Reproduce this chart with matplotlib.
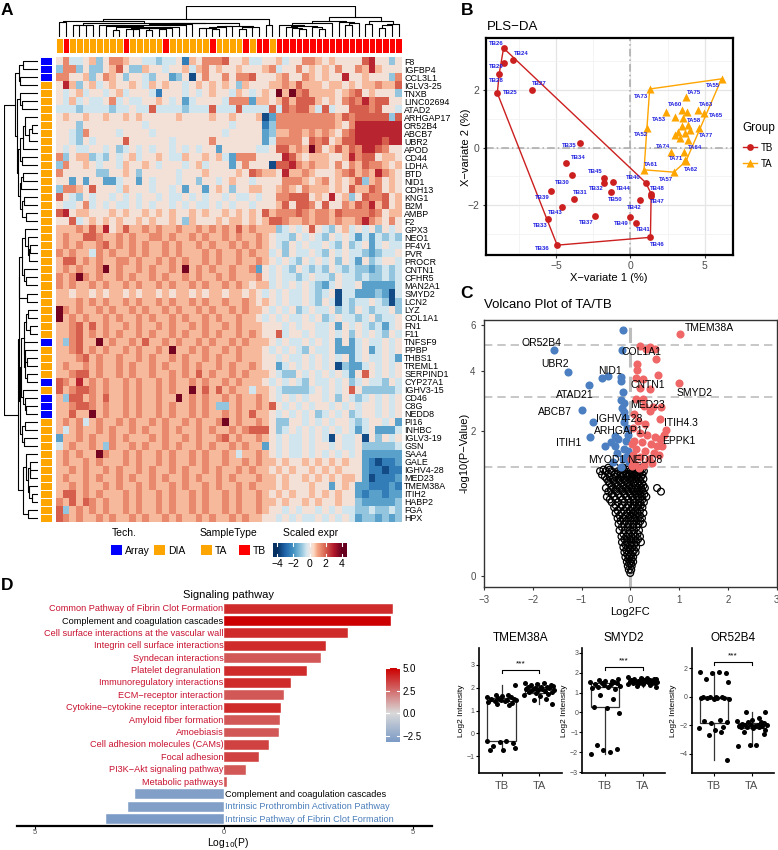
import numpy as np
import matplotlib
matplotlib.use('Agg')
import matplotlib.pyplot as plt
from matplotlib.colors import LinearSegmentedColormap, TwoSlopeNorm
from matplotlib.patches import Rectangle

plt.rcParams['font.family'] = ['Liberation Sans', 'DejaVu Sans']

# ---------------- panel A data ----------------
genes = ['F8', 'IGFBP4', 'CCL3L1', 'IGLV3-25', 'TNXB', 'LINC02694', 'ATAD2', 'ARHGAP17',
         'OR52B4', 'ABCB7', 'UBR2', 'APOD', 'CD44', 'LDHA', 'BTD', 'NID1', 'CDH13', 'KNG1',
         'B2M', 'AMBP', 'F2', 'GPX3', 'NEO1', 'PF4V1', 'PVR', 'PROCR', 'CNTN1', 'CFHR5',
         'MAN2A1', 'SMYD2', 'LCN2', 'LYZ', 'COL1A1', 'FN1', 'F11', 'TNFSF9', 'PPBP', 'THBS1',
         'TREML1', 'SERPIND1', 'CYP27A1', 'IGHV3-15', 'CD46', 'C8G', 'NEDD8', 'PI16', 'INHBC',
         'IGLV3-19', 'GSN', 'SAA4', 'GALE', 'IGHV4-28', 'MED23', 'TMEM38A', 'ITIH2', 'HABP2',
         'FGA', 'HPX']
# A = Array, D = DIA (one letter per gene row)
tech = 'AAA' + 'DDDDDDDDDDDDDDDDDDDDDDDDDDDDDDDD' + 'A' + 'DDDD' + 'A' + 'D' + 'AAA' + 'DDDDDDDDDDDDD'
# A = TA, B = TB (one letter per sample column)
sample_type = 'AB' + 'AAAAAAAA' + 'B' + 'AAAAA' + 'B' + 'AAAAAA' + 'B' + 'AAAA' + 'B' + 'A' + 'BB' + 'A' + 'BBBBBBBBBBBBBBBBBBB'

# scaled expression, one code per cell (see level below)
level = {'0': -3.5, '1': -2.5, '2': -1.7, '3': -1.0, '4': -0.4, '5': 0.2,
         '6': 0.8, '7': 1.4, '8': 2.0, '9': 2.8, 'X': 3.8}
heat_rows = [
    "5744 5635 7765 5443 4451 6577 7855 6445 5645 5776 5655 5589 5535",
    "3773 5335 6853 3655 4556 4675 6556 5556 7455 7565 6575 5769 6555",
    "7755 6357 6535 5435 5235 0575 5757 7855 5675 5765 6559 5565 5537",
    "5963 5645 6556 5465 6554 5656 5653 6555 6676 8666 5665 6566 7668",
    "5456 4554 5645 5541 5554 5456 5546 5456 5X6X 7866 6656 7856 5553",
    "5464 5445 7454 4556 5452 4555 5477 7266 5686 8886 5657 8797 8855",
    "4443 4444 3445 4484 4443 4448 4448 4444 8487 8864 8455 8887 8554",
    "5655 6556 5565 6555 5565 5556 5565 5560 2777 7777 7768 7888 8838",
    "5553 5555 5555 5455 5555 5555 5545 5551 3777 7777 7765 7999 9999",
    "5543 7555 5455 5545 5555 5555 5455 5552 3667 7676 7657 8999 9999",
    "5543 5455 5585 5555 5455 5557 5555 5552 4777 7587 8568 8999 9899",
    "5454 4554 5345 4545 5454 5455 2555 5544 5886 76X7 5686 8799 8755",
    "7356 6343 5456 4556 5446 5565 6427 7755 5598 6566 6556 9788 5665",
    "3755 6545 5465 5654 5554 5645 5525 7555 0889 7676 6575 7687 7656",
    "7555 5533 5565 3555 5545 5565 5556 5876 6596 6765 5567 8676 9765",
    "5525 2552 2455 2545 5545 5355 4565 5455 5577 7656 7565 6836 7565",
    "3776 5855 5465 5545 5452 5525 6535 5665 5676 5766 6565 8668 7565",
    "8543 5455 4545 4554 5445 4545 5454 4545 5778 8856 5956 3587 7856",
    "5445 7454 5445 4545 5454 5445 4545 5455 5685 8875 8557 6879 6856",
    "8956 6555 6565 5656 5655 6565 5656 5658 6777 8767 7687 7778 7566",
    "5584 5656 5655 6565 5653 6555 6566 5656 8876 6767 7676 6797 6575",
    "6667 6869 5686 6767 6676 6767 6768 6766 6345 4585 4356 4545 3545",
    "6766 8876 6767 6677 6766 7676 6767 6676 5443 5454 3545 4242 4343",
    "6767 6678 6767 6766 7676 6767 6676 7676 5435 4544 5435 3452 4544",
    "7676 6476 7667 6766 7676 6676 7667 6766 4535 4454 3545 4432 3445",
    "6886 7676 6776 7667 6767 6676 7667 6676 5454 3545 4535 4253 4554",
    "6767 667X 6766 7676 676X 6767 6676 6725 4543 5434 3543 4332 3434",
    "767X 7676 6767 6676 7667 6766 7676 6675 4544 3454 4354 4343 3434",
    "7676 6767 6676 7667 6766 7676 6767 6566 4545 4543 2454 4522 2224",
    "6656 6565 6656 5665 6566 5656 6566 5654 5454 4543 4504 4222 3204",
    "6667 6767 6676 7667 6766 7676 6766 7656 5454 4543 5404 3445 4303",
    "X767 6676 7667 6766 7676 6767 6676 7665 4545 3454 4534 3543 4453",
    "X676 7667 6766 7676 6767 6676 7667 6654 5454 4545 3454 4345 3445",
    "6678 6867 6676 7667 6766 7676 6767 6665 5545 4554 4525 4543 4245",
    "6678 6767 6766 7676 6767 6676 7667 6765 5845 5454 4545 3545 4354",
    "6378 66X6 7667 6866 7676 6767 6676 7666 5454 4545 4525 2454 4545",
    "6678 6767 6676 7667 6X66 7676 6767 6665 4545 4354 4522 2452 4545",
    "6667 8676 6766 7676 6767 6676 7667 6665 5454 4545 4545 2454 4542",
    "6766 7676 6767 6676 7667 6766 7676 6765 5245 4545 4503 2245 4545",
    "6678 8676 6767 6676 6767 6867 6676 7666 5433 5454 5454 2585 4545",
    "8769 6767 6676 7667 6766 7676 6767 6665 4545 4354 4545 3454 4354",
    "8678 8767 6676 7667 6766 X686 8676 6466 5433 3345 4545 8533 3334",
    "6388 6768 6676 7667 66X6 7676 6767 6676 5454 5455 4535 4345 4545",
    "6678 8767 6676 7667 6766 7676 3367 6676 8545 4545 5454 5455 4545",
    "6686 6X67 6676 7667 6766 7676 6767 6866 5454 5453 4545 3455 4545",
    "6767 4676 6767 6676 7667 6766 7X67 6676 5335 5454 5455 4345 5452",
    "6467 6676 7667 6766 7676 6767 6676 7888 5345 4545 4545 4245 2224",
    "2667 6766 7676 6676 7667 6766 7867 6676 5454 4545 4054 4505 3545",
    "4676 6763 7667 6766 7676 6767 6676 7662 5454 4545 5454 4533 3334",
    "6767 66X7 6676 7667 6766 7676 6764 6676 5454 4545 4545 4522 2222",
    "6766 7676 6676 7667 6766 7676 6766 7676 6565 5656 5656 5521 0112",
    "6676 7667 6766 7676 6767 6676 7667 6766 5656 5565 6565 5521 1011",
    "6766 7676 6767 6676 7667 6766 7676 6676 6565 5656 5656 6520 1112",
    "6676 7667 6766 7676 6767 6676 7667 6766 6565 5565 5256 5221 1121",
    "6886 7676 6676 7667 6766 7676 6767 6676 5656 5565 6565 5212 2122",
    "7686 8767 6676 7667 6766 7676 6767 6676 6565 5656 5565 5322 2223",
    "8367 6767 6676 7667 6766 7676 6767 6676 5545 4554 5454 4334 3343",
    "8767 6676 7667 6766 7676 6767 6676 7665 5454 5445 4545 4233 2323",
]

# ---------------- panel B data (PLS-DA scores) ----------------
tb_names = ['TB26', 'TB24', 'TB29', 'TB28', 'TB25', 'TB27', 'TB35', 'TB34', 'TB30', 'TB45',
            'TB32', 'TB44', 'TB31', 'TB50', 'TB39', 'TB43', 'TB33', 'TB37', 'TB49', 'TB41',
            'TB42', 'TB40', 'TB48', 'TB47', 'TB46', 'TB36']
tb_x = [-8.52, -7.91, -8.47, -8.81, -8.94, -6.61, -3.35, -4.31, -3.93, -1.80, -1.80, -1.17, -3.80,
        -1.28, -5.30, -4.56, -5.53, -2.38, -0.04, 0.40, 0.63, 1.03, 1.40, 1.38, 1.35, -4.92]
tb_y = [3.43, 3.03, 2.92, 2.55, 1.88, 1.99, 0.17, -0.54, -0.95, -1.04, -1.21, -1.18, -1.78,
        -1.52, -1.49, -2.04, -2.48, -2.36, -2.39, -2.59, -1.81, -1.21, -1.60, -1.66, -3.10, -3.37]
ta_names = ['TA55', 'TA73', 'TA75', 'TA60', 'TA63', 'TA65', 'TA53', 'TA58', 'TA52', 'TA77',
            'TA74', 'TA64', 'TA71', 'TA62', 'TA61', 'TA57', 'TA54', 'TA56', 'TA59', 'TA66',
            'TA67', 'TA68', 'TA69', 'TA70', 'TA72', 'TA76']
ta_x = [6.13, 1.30, 3.73, 3.44, 4.56, 4.94, 2.43, 3.55, 1.12, 4.63, 2.70, 3.60, 3.66, 3.73, 0.92,
        2.92, 2.99, 3.78, 3.44, 3.89, 3.21, 3.66, 2.99, 3.33, 4.00, 3.89]
ta_y = [2.37, 2.02, 1.73, 1.30, 1.30, 1.19, 1.21, 1.01, 0.69, 0.67, -0.14, -0.14, -0.43, -0.48,
        -0.77, -0.85, 1.07, 1.24, 0.73, 0.78, 0.55, 0.50, 0.44, 0.32, 0.61, 0.27]

# ---------------- panel C data (volcano) ----------------
down_x = [-0.15, -1.56, -0.17, -1.28, -0.57, -0.46, -0.20, -0.20, -0.85, -0.15, -0.20, -0.13,
          -0.17, -0.12, -0.98, -0.76, -0.12, -0.07, -0.82, -0.32, -0.25, -0.08, -0.52, -0.32,
          -0.12, -0.20, -0.05, -0.10, -0.40, -0.05, -0.08, -0.15, -0.28, -0.02, -0.35]
down_y = [5.75, 4.85, 4.87, 3.96, 3.72, 3.81, 3.77, 3.62, 3.49, 3.23, 2.95, 2.85, 2.70, 2.55,
          2.62, 2.27, 2.25, 2.10, 1.83, 1.87, 1.80, 1.75, 1.60, 1.60, 1.55, 1.14, 1.90, 2.40,
          1.70, 1.50, 1.35, 1.30, 1.45, 1.25, 1.25]
up_x = [1.03, 0.19, 0.41, 0.50, 0.33, 0.53, 0.14, 0.14, 0.57, 0.12, 0.26, 0.99, 0.41, 0.20,
        0.12, 0.26, 0.29, 0.46, 0.63, 0.40, 0.62, 0.74, 0.08, 0.15, 0.30, 0.05, 0.20, 0.35,
        0.50, 0.60, 0.08, 0.25, 0.42, 0.55, 0.12, 0.30, 0.48, 0.05, 0.20, 0.38, 0.58, 0.10,
        0.28, 0.45, 0.03, 0.18, 0.65, 0.70, 0.04, 0.02]
up_y = [5.57, 5.04, 5.01, 4.92, 4.89, 4.47, 4.27, 4.04, 3.84, 3.75, 3.70, 3.56, 3.34, 3.35,
        3.00, 2.98, 2.75, 2.72, 2.72, 2.58, 2.36, 2.02, 2.50, 2.30, 2.20, 2.10, 1.95, 1.90,
        1.85, 1.80, 1.75, 1.70, 1.65, 1.60, 1.55, 1.50, 1.45, 1.40, 1.35, 1.30, 1.40, 1.20,
        1.18, 1.22, 1.15, 1.12, 1.60, 1.90, 1.65, 1.30]
# non-significant proteins, grouped by -log10(P)
ns_rows = [
    (1.12, [-0.45, -0.30, -0.15, -0.05, 0.05, 0.15, 0.22]),
    (1.08, [-0.55, -0.42, -0.20, -0.08, 0.02, 0.12, 0.24]),
    (1.05, [-0.62, -0.50, -0.38, -0.25, -0.12, 0.00, 0.10, 0.20, 0.28]),
    (1.00, [-0.45, -0.26, -0.14, -0.02, 0.08, 0.18]),
    (0.98, [-0.58, -0.32, -0.20, -0.08, 0.04, 0.14, 0.25]),
    (0.94, [-0.52, -0.42, -0.30, -0.18, -0.07, 0.03, 0.13, 0.22]),
    (0.90, [-0.48, -0.36, -0.24, -0.13, -0.02, 0.08, 0.18, 0.27]),
    (0.86, [-0.45, -0.34, -0.22, -0.10, 0.00, 0.10, 0.20]),
    (0.82, [-0.42, -0.30, -0.18, -0.06, 0.06, 0.16, 0.24]),
    (0.78, [-0.38, -0.26, -0.14, -0.02, 0.10, 0.20, 0.27]),
    (0.74, [-0.50, -0.35, -0.22, -0.10, 0.02, 0.12, 0.22, 0.30, 0.55]),
    (0.71, [-0.40, -0.30, -0.18, -0.06, 0.05, 0.15, 0.24]),
    (0.68, [-0.45, -0.28, -0.15, -0.03, 0.08, 0.18, 0.26, 0.63]),
    (0.64, [-0.38, -0.24, -0.12, 0.00, 0.10, 0.20, 0.29]),
    (0.60, [-0.48, -0.33, -0.20, -0.08, 0.04, 0.14, 0.24, 0.33]),
    (0.56, [-0.42, -0.30, -0.16, -0.04, 0.07, 0.17, 0.25]),
    (0.52, [-0.38, -0.25, -0.12, 0.00, 0.10, 0.20, 0.28]),
    (0.48, [-0.30, -0.16, -0.04, 0.07, 0.17, 0.22]),
    (0.45, [-0.33, -0.20, -0.08, 0.04, 0.14, 0.25]),
    (0.41, [-0.26, -0.13, -0.01, 0.10, 0.20]),
    (0.38, [-0.30, -0.18, -0.06, 0.05, 0.15, 0.27]),
    (0.35, [-0.22, -0.10, 0.00, 0.11, 0.20]),
    (0.32, [-0.26, -0.15, -0.04, 0.06, 0.16, 0.24]),
    (0.29, [-0.20, -0.09, 0.01, 0.12, 0.21]),
    (0.26, [-0.24, -0.13, -0.03, 0.07, 0.17, 0.26]),
    (0.23, [-0.17, -0.06, 0.04, 0.13]),
    (0.20, [-0.22, -0.11, -0.01, 0.08, 0.18]),
    (0.17, [-0.14, -0.04, 0.06, 0.15]),
    (0.15, [-0.18, -0.08, 0.02, 0.11, 0.20]),
    (0.13, [-0.12, -0.02, 0.07, 0.16]),
    (0.11, [-0.17, -0.07, 0.03, 0.12, 0.22]),
    (0.095, [-0.10, 0.00, 0.08]),
    (0.08, [-0.14, -0.05, 0.04, 0.12]),
    (0.065, [-0.08, 0.00, 0.08]),
    (0.055, [-0.12, -0.03, 0.05, 0.11]),
    (0.045, [-0.06, 0.02]),
    (0.035, [-0.10, -0.02, 0.06]),
    (0.028, [-0.04, 0.03]),
    (0.02, [-0.07, 0.00, 0.06]),
    (0.015, [-0.02, 0.02]),
    (0.01, [-0.05, 0.03]),
    (0.004, [-0.03, 0.02]),
    (0.001, [0.00]),
]
volcano_labels = ['TMEM38A', 'OR52B4', 'COL1A1', 'UBR2', 'NID1', 'CNTN1', 'SMYD2', 'ATAD21',
                  'MED23', 'ABCB7', 'IGHV4-28', 'ITIH4.3', 'ARHGAP17', 'EPPK1', 'ITIH1',
                  'MYOD1', 'NEDD8']
label_x = [1.62, -1.83, 0.24, -1.55, -0.42, 0.36, 1.32, -1.13, 0.36, -1.55, -0.22, 1.04,
           -0.18, 0.99, -1.26, -0.49, 0.29]
label_y = [5.84, 5.19, 4.78, 4.27, 4.00, 3.47, 3.20, 3.13, 2.80, 2.55, 2.35, 2.23, 2.01,
           1.74, 1.68, 1.29, 1.29]
p_cut = [5.1, 3.05, 1.13]

# ---------------- panel D data ----------------
pathways = ['Common Pathway of Fibrin Clot Formation', 'Complement and coagulation cascades',
            'Cell surface interactions at the vascular wall', 'Integrin cell surface interactions',
            'Syndecan interactions', 'Platelet degranulation ', 'Immunoregulatory interactions',
            'ECM\u2212receptor interaction', 'Cytokine\u2212cytokine receptor interaction',
            'Amyloid fiber formation', 'Amoebiasis', 'Cell adhesion molecules (CAMs)',
            'Focal adhesion', 'PI3K\u2212Akt signaling pathway', 'Metabolic pathways',
            'Complement and coagulation cascades', 'Intrinsic Prothrombin Activation Pathway',
            'Intrinsic Pathway of Fibrin Clot Formation']
log_p = [4.46, 4.41, 3.29, 2.70, 2.56, 2.19, 1.77, 1.59, 1.51, 1.48, 1.44, 1.20, 0.93, 0.58,
         0.07, -2.37, -2.55, -3.12]
count = [4.0, 5.0, 4.0, 4.0, 3.0, 4.0, 4.0, 3.0, 4.0, 3.0, 3.0, 3.5, 3.5, 3.0, 3.0,
         -3.0, -3.0, -3.2]

# ---------------- boxplot data ----------------
box_genes = ['TMEM38A', 'SMYD2', 'OR52B4']
tb_vals = [
    [-0.32, -0.35, -0.38, -0.42, -0.55, -0.65, -0.72, -0.75, 1.25, 1.30, 1.32, 1.38, 1.40,
     1.42, 1.45, 1.47, 1.48, 1.50, 1.52, 1.55, 1.58, 1.60, 1.65, 1.68, 1.70, 2.10],
    [-2.10, -2.00, -1.90, -1.85, -1.65, -0.05, 0.25, 0.30, 0.70, 0.90, 1.20, 1.25, 1.30, 1.30,
     1.35, 1.40, 1.45, 1.45, 1.50, 1.50, 1.52, 1.55, 1.58, 1.60, 1.65, 1.70],
    [1.75, 1.70, 1.65, 1.62, 1.20, 1.00, 0.00, -0.02, -0.05, -0.05, -0.08, -0.10, -0.10, -0.12,
     -0.15, -0.20, -1.60, -1.70, -1.80, -1.85, -2.10, -2.20, -2.30, -2.50, -2.70, -4.40],
]
ta_vals = [
    [1.30, 1.45, 1.50, 1.62, 1.70, 1.72, 1.75, 1.80, 1.82, 1.85, 1.88, 1.90, 1.92, 1.93, 1.95,
     1.97, 2.00, 2.02, 2.05, 2.05, 2.08, 2.10, 2.12, 2.15, 2.20, 2.22],
    [1.28, 1.35, 1.40, 1.42, 1.45, 1.47, 1.48, 1.50, 1.50, 1.52, 1.53, 1.55, 1.55, 1.56, 1.58,
     1.60, 1.60, 1.62, 1.63, 1.65, 1.66, 1.68, 1.70, 1.72, 1.75, 1.78],
    [-1.10, -1.10, -1.50, -1.60, -1.70, -1.75, -1.80, -1.85, -1.90, -1.95, -1.98, -2.00, -2.00,
     -2.02, -2.05, -2.05, -2.10, -2.10, -2.15, -2.20, -2.30, -2.50, -2.60, -3.35, -3.40, -3.45],
]
jitter = [-0.38, 0.12, -0.05, 0.31, -0.22, 0.36, 0.04, -0.30, 0.20, -0.12, 0.27, -0.35, 0.08,
          -0.18, 0.39, -0.02, 0.15, -0.27, 0.33, -0.09, 0.24, -0.40, 0.01, 0.18, -0.15, 0.35]

# =====================================================================
W, H = 778, 850
fig = plt.figure(figsize=(W / 100, H / 100), dpi=100)


def ax_px(x0, y0, x1, y1):
    return fig.add_axes([x0 / W, 1 - y1 / H, (x1 - x0) / W, (y1 - y0) / H])


# overlay in pixel coordinates for letters, titles and legends
ov = ax_px(0, 0, W, H)
ov.set_xlim(0, W)
ov.set_ylim(H, 0)
ov.axis('off')

for letter, (lx, ly) in zip('ABCD', [(7, 10), (467, 10), (467, 294), (7, 586)]):
    ov.text(lx, ly, letter, fontsize=12.5, fontweight='bold', ha='center', va='center')

# ---------------- A: heatmap ----------------
expr = np.array([[level[c] for c in r.replace(' ', '')] for r in heat_rows])
n_row, n_col = expr.shape

heat_cmap = LinearSegmentedColormap.from_list('scaled', [
    (0.0, '#053061'), (0.125, '#2166AC'), (0.25, '#4393C3'), (0.375, '#92C5DE'),
    (0.45, '#D1E5F0'), (0.5, '#ECE7E5'), (0.56, '#FDDBC7'), (0.625, '#F4A582'),
    (0.75, '#D6604D'), (0.875, '#B2182B'), (1.0, '#67001F')])


def adjacent_tree(m):
    # complete-linkage clustering that only joins neighbours, so the leaf order is kept
    d = np.sqrt(((m[:, None, :] - m[None, :, :]) ** 2).sum(-1))
    groups = [[i] for i in range(len(m))]
    pos = [i + 0.5 for i in range(len(m))]
    hts = [0.0] * len(m)
    links = []
    while len(groups) > 1:
        dk = [d[np.ix_(groups[k], groups[k + 1])].max() for k in range(len(groups) - 1)]
        k = int(np.argmin(dk))
        h = max(dk[k], hts[k], hts[k + 1])
        links.append((pos[k], hts[k], pos[k + 1], hts[k + 1], h))
        groups[k] = groups[k] + groups.pop(k + 1)
        pos[k] = (pos[k] + pos.pop(k + 1)) / 2
        hts.pop(k + 1)
        hts[k] = h
    return links, h


axh = ax_px(56, 57, 402, 522)
axh.imshow(expr, cmap=heat_cmap, vmin=-4, vmax=4, aspect='auto', interpolation='nearest',
           extent=(0, n_col, n_row, 0))
axh.set_xticks([])
axh.yaxis.tick_right()
axh.set_yticks(np.arange(n_row) + 0.5)
axh.set_yticklabels(genes, fontsize=6.4)
axh.tick_params(axis='y', length=0, pad=1.5)
for s in axh.spines.values():
    s.set_visible(False)

# column annotation
type_col = {'A': '#FFA500', 'B': '#FF0000'}
axca = ax_px(56, 38, 402, 52.7)
for i, t in enumerate(sample_type):
    axca.add_patch(Rectangle((i, 0), 1, 1, facecolor=type_col[t], edgecolor='white', lw=0.7))
axca.set_xlim(0, n_col)
axca.set_ylim(0, 1)
axca.axis('off')

# row annotation
tech_col = {'A': '#0000FF', 'D': '#FFA500'}
axra = ax_px(40, 57, 52.3, 522)
for i, t in enumerate(tech):
    axra.add_patch(Rectangle((0, i), 1, 1, facecolor=tech_col[t], edgecolor='white', lw=0.7))
axra.set_xlim(0, 1)
axra.set_ylim(n_row, 0)
axra.axis('off')

# dendrograms
col_links, col_top = adjacent_tree(expr.T)
axcd = ax_px(56, 6, 402, 37)
for x1, h1, x2, h2, h in col_links:
    axcd.plot([x1, x1, x2, x2], [h1, h, h, h2], color='black', lw=0.8)
axcd.set_xlim(0, n_col)
axcd.set_ylim(0, col_top)
axcd.axis('off')

row_links, row_top = adjacent_tree(expr)
axrd = ax_px(4, 57, 38, 522)
for y1, h1, y2, h2, h in row_links:
    axrd.plot([h1, h, h, h2], [y1, y1, y2, y2], color='black', lw=0.8)
axrd.set_xlim(row_top, 0)
axrd.set_ylim(n_row, 0)
axrd.axis('off')

# legends of A
ov.text(112, 533, 'Tech.', fontsize=7.5, va='center')
ov.add_patch(Rectangle((111, 545), 11, 10, facecolor='#0000FF'))
ov.text(125, 550.5, 'Array', fontsize=7.5, va='center')
ov.add_patch(Rectangle((154, 545), 11, 10, facecolor='#FFA500'))
ov.text(168, 550.5, 'DIA', fontsize=7.5, va='center')
ov.text(200, 533, 'SampleType', fontsize=7.5, va='center')
ov.add_patch(Rectangle((201, 545), 11, 10, facecolor='#FFA500'))
ov.text(215, 550.5, 'TA', fontsize=7.5, va='center')
ov.add_patch(Rectangle((239, 545), 11, 10, facecolor='#FF0000'))
ov.text(253, 550.5, 'TB', fontsize=7.5, va='center')
ov.text(283, 533, 'Scaled expr', fontsize=7.5, va='center')

axcb = ax_px(273, 543, 347, 557)
grad = np.linspace(-4.5, 4.6, 200)
axcb.imshow(grad[None, :], cmap=heat_cmap, vmin=-4, vmax=4, aspect='auto',
            extent=(-4.5, 4.6, 0, 1))
axcb.set_xlim(-4.5, 4.6)
for t in [-4, -2, 0, 2, 4]:
    axcb.plot([t, t], [0, 0.2], color='white', lw=0.8)
    axcb.plot([t, t], [0.8, 1], color='white', lw=0.8)
axcb.set_yticks([])
axcb.set_xticks([-4, -2, 0, 2, 4])
axcb.set_xticklabels(['\u22124', '\u22122', '0', '2', '4'], fontsize=7.5)
axcb.tick_params(axis='x', length=0, pad=1.5)
for s in axcb.spines.values():
    s.set_visible(False)

# ---------------- B: PLS-DA ----------------
def convex_hull(px, py):
    pts = sorted(set(zip(px, py)))

    def cross(o, a, b):
        return (a[0] - o[0]) * (b[1] - o[1]) - (a[1] - o[1]) * (b[0] - o[0])
    lower, upper = [], []
    for p in pts:
        while len(lower) >= 2 and cross(lower[-2], lower[-1], p) <= 0:
            lower.pop()
        lower.append(p)
    for p in reversed(pts):
        while len(upper) >= 2 and cross(upper[-2], upper[-1], p) <= 0:
            upper.pop()
        upper.append(p)
    h = lower[:-1] + upper[:-1]
    h.append(h[0])
    return [p[0] for p in h], [p[1] for p in h]


tb_red, ta_orange = '#CC1F1F', '#FFA500'
axB = ax_px(486, 38, 733, 255)
axB.set_xlim(-9.7, 6.9)
axB.set_ylim(-3.71, 3.78)
axB.set_xticks([-5, 0, 5])
axB.set_yticks([-2, 0, 2])
axB.set_xticks([-7.5, -2.5, 2.5], minor=True)
axB.set_yticks([-3, -1, 1, 3], minor=True)
axB.grid(which='major', color='#E5E5E5', lw=0.9)
axB.grid(which='minor', color='#F0F0F0', lw=0.5)
axB.set_axisbelow(True)
axB.tick_params(which='minor', length=0)
axB.tick_params(which='major', labelsize=7.5, labelcolor='#4D4D4D', length=2.5, color='#333333',
                pad=2)
for s in axB.spines.values():
    s.set_linewidth(1.6)
axB.axhline(0, color='#A8A8A8', lw=1.1, ls=(0, (5, 2, 1, 2)), zorder=1)
axB.axvline(0, color='#A8A8A8', lw=1.1, ls=(0, (5, 2, 1, 2)), zorder=1)
hx, hy = convex_hull(tb_x, tb_y)
axB.plot(hx, hy, color=tb_red, lw=1.0, zorder=2)
hx, hy = convex_hull(ta_x, ta_y)
axB.plot(hx, hy, color=ta_orange, lw=1.0, zorder=2)
axB.scatter(tb_x, tb_y, s=24, color=tb_red, zorder=3, lw=0)
axB.scatter(ta_x, ta_y, s=34, color=ta_orange, marker='^', zorder=3, lw=0)

# label offsets in pixels (right, up) as placed by the label repel
name_offset = {
    'TB26': (-7, 4.3), 'TB24': (8.3, 6), 'TB29': (-7.7, -4), 'TB28': (-2.7, -6.7),
    'TB25': (12.7, 0.7), 'TB27': (7.3, 6), 'TB35': (-11.7, -3.3), 'TB34': (12.3, 6),
    'TB30': (-9.7, -7.3), 'TB45': (-8, 6), 'TB32': (-7.3, -5.7), 'TB44': (10, -6.7),
    'TB31': (7, 6.3), 'TB50': (4.3, -7.7), 'TB39': (-8.7, -6.7), 'TB43': (-7.3, -5.7),
    'TB33': (-7.7, -6.3), 'TB37': (-8.7, -6.7), 'TB49': (-8.3, -6.7), 'TB41': (6.7, -7.3),
    'TB42': (-5, -7.3), 'TB40': (-12, 5.3), 'TB48': (6.3, 5.7), 'TB47': (6.7, -6),
    'TB46': (7, -6.7), 'TB36': (-14.3, -3.3),
    'TA55': (-8.3, -7), 'TA73': (-8.3, -7.3), 'TA75': (8, 5.3), 'TA60': (-6.7, 5.7),
    'TA63': (7.7, 5), 'TA65': (11.7, -2.3), 'TA53': (-7.7, -6.7), 'TA58': (11, -2.3),
    'TA52': (-6.3, -7.3), 'TA77': (7.3, -7.3), 'TA74': (-7.3, 5), 'TA64': (11, 4.3),
    'TA71': (-8.3, 1.7), 'TA62': (5, -8.3), 'TA61': (7, 5.7), 'TA57': (-7.3, -7),
}
for names, xs, ys in [(tb_names, tb_x, tb_y), (ta_names, ta_x, ta_y)]:
    for nm, x, y in zip(names, xs, ys):
        if nm in name_offset:
            dx, dy = name_offset[nm]
            axB.annotate(nm, (x, y), xytext=(dx * 0.72, dy * 0.72), textcoords='offset points',
                         ha='center', va='center', fontsize=4.3, color='#2020E0',
                         fontweight='bold', zorder=4)

ov.text(487, 27, 'PLS\u2212DA', fontsize=9.5, va='center')
ov.text(609, 278, 'X\u2212variate 1 (%)', fontsize=8, ha='center', va='center')
ov.text(466, 147, 'X\u2212variate 2 (%)', fontsize=8, ha='center', va='center', rotation=90)
ov.text(742, 128, 'Group', fontsize=8.5, va='center')
ov.plot([743, 757], [147, 147], color=tb_red, lw=1.0)
ov.scatter([750], [147], s=24, color=tb_red, lw=0)
ov.text(761, 147.5, 'TB', fontsize=7, va='center')
ov.plot([743, 757], [163, 163], color=ta_orange, lw=1.0)
ov.scatter([750], [163], s=34, color=ta_orange, marker='^', lw=0)
ov.text(761, 163.5, 'TA', fontsize=7, va='center')

# ---------------- C: volcano ----------------
ns_x = [x for y, xs in ns_rows for x in xs]
ns_y = [y for y, xs in ns_rows for x in xs]

axC = ax_px(484, 320, 776.5, 587)
axC.set_yscale('function', functions=(lambda v: np.sign(v) * np.sqrt(np.abs(v)),
                                      lambda v: np.sign(v) * v ** 2))
axC.set_xlim(-3, 3)
axC.set_ylim(-0.011, 6.24)
axC.set_xticks([-3, -2, -1, 0, 1, 2, 3])
axC.set_yticks([0, 2, 4, 6])
axC.tick_params(labelsize=7, labelcolor='#4D4D4D', length=2.5, color='#333333')
for s in axC.spines.values():
    s.set_linewidth(1.0)
    s.set_color('#333333')
for yc in p_cut:
    axC.axhline(yc, color='#BDBDBD', lw=1.2, ls=(0, (5, 3)), zorder=1)
axC.axvline(0, color='#BDBDBD', lw=2.2, ls=(0, (5, 3)), zorder=1)
axC.scatter(ns_x, ns_y, s=24, facecolors='none', edgecolors='black', lw=0.9, zorder=2)
axC.scatter(down_x, down_y, s=34, color='#4B7FC1', lw=0, zorder=3)
axC.scatter(up_x, up_y, s=34, color='#F06767', lw=0, zorder=3)
for nm, x, y in zip(volcano_labels, label_x, label_y):
    axC.text(x, y, nm, fontsize=7.5, ha='center', va='center', zorder=4)

ov.text(484, 305, 'Volcano Plot of TA/TB', fontsize=9.5, va='center')
ov.text(630, 612, 'Log2FC', fontsize=8, ha='center', va='center')
ov.text(465, 453, '-log10(P\u2212Value)', fontsize=8, ha='center', va='center', rotation=90)

# ---------------- D: pathway bars ----------------
count_cmap = LinearSegmentedColormap.from_list('count', ['#7C9BC6', '#DADADA', '#CC0000'])
count_norm = TwoSlopeNorm(vmin=-3.2, vcenter=0, vmax=5.0)

axD = ax_px(17, 600, 432, 826)
ypos = np.arange(len(pathways))
axD.barh(ypos, log_p, height=0.8, color=count_cmap(count_norm(count)),
         edgecolor='white', lw=0.3)
axD.set_xlim(-5.48, 5.5)
axD.set_ylim(len(pathways) - 0.45, -0.7)
for s in ['left', 'right', 'top']:
    axD.spines[s].set_visible(False)
axD.spines['bottom'].set_linewidth(1.6)
axD.set_yticks([])
axD.set_xticks([-5, 0, 5])
axD.set_xticklabels(['5', '0', '5'])
axD.tick_params(axis='x', labelsize=5.5, labelcolor='#4D4D4D', length=2, pad=0.5)
for i, (nm, v) in enumerate(zip(pathways, log_p)):
    if nm.startswith('Complement'):
        c = 'black'
    elif v > 0:
        c = '#C8102E'
    else:
        c = '#4A7EBB'
    if v > 0:
        axD.text(-0.02, i, nm, fontsize=6.6, color=c, ha='right', va='center')
    else:
        axD.text(0.02, i, nm, fontsize=6.6, color=c, ha='left', va='center')

ov.text(229, 595, 'Signaling pathway', fontsize=8, ha='center', va='center')
ov.text(228, 843, 'Log$_{10}$(P)', fontsize=7.5, ha='center', va='center')

axcc = ax_px(386, 668, 400, 742)
cgrad = np.linspace(5.0, -3.2, 200)
axcc.imshow(cgrad[:, None], cmap=count_cmap, norm=count_norm, aspect='auto',
            extent=(0, 1, -3.2, 5.0))
axcc.set_ylim(-3.2, 5.0)
axcc.set_xticks([])
for t in [5.0, 2.5, 0.0, -2.5]:
    axcc.plot([0, 0.2], [t, t], color='white', lw=0.8)
    axcc.plot([0.8, 1], [t, t], color='white', lw=0.8)
axcc.yaxis.tick_right()
axcc.set_yticks([5.0, 2.5, 0.0, -2.5])
axcc.set_yticklabels(['5.0', '2.5', '0.0', '\u22122.5'], fontsize=7)
axcc.tick_params(axis='y', length=0, pad=2)
for s in axcc.spines.values():
    s.set_visible(False)
ov.text(385, 659, 'Count', fontsize=7.5, va='center')

# ---------------- boxplots ----------------
box_axes = [(479, 37.6, (-1.74, 3.74), [-1, 0, 1, 2, 3], 2.77, ['\u22121', '0', '1', '2', '3']),
            (582.4, 37.7, (-3.03, 3.23), [-3, -2, -1, 0, 1, 2, 3], 2.27,
             ['\u22123', '\u22122', '\u22121', '0', '1', '2', '3']),
            (691.7, 37.6, (-5.34, 3.4), [-4, -2, 0, 2], 2.45, ['\u22124', '\u22122', '0', '2'])]
for g, tbv, tav, (x0, unit, yl, yt, by, ytl) in zip(box_genes, tb_vals, ta_vals, box_axes):
    axb = ax_px(x0, 648, x0 + 2.2 * unit, 773)
    axb.boxplot([tbv, tav], positions=[1, 2], widths=0.75, whis=(0, 100), showfliers=False,
                showcaps=False, patch_artist=True,
                boxprops=dict(facecolor='white', edgecolor='#333333', lw=0.9),
                medianprops=dict(color='#333333', lw=0.9),
                whiskerprops=dict(color='#333333', lw=0.9))
    axb.scatter(1 + np.array(jitter), tbv, s=13, color='black', lw=0, zorder=3)
    axb.scatter(2 + np.array(jitter[::-1]), tav, s=13, color='black', lw=0, zorder=3)
    span = yl[1] - yl[0]
    axb.plot([1, 1, 2, 2], [by - 0.025 * span, by, by, by - 0.025 * span], color='black', lw=0.8)
    axb.text(1.5, by + 0.02 * span, '***', fontsize=6, ha='center', va='bottom')
    axb.set_xlim(0.4, 2.6)
    axb.set_ylim(*yl)
    axb.set_yticks(yt)
    axb.set_yticklabels(ytl)
    axb.set_xticks([1, 2])
    axb.set_xticklabels(['TB', 'TA'])
    axb.tick_params(axis='y', labelsize=5, labelcolor='#4D4D4D', length=2, pad=1)
    axb.tick_params(axis='x', labelsize=8, labelcolor='#4D4D4D', length=2)
    axb.spines['top'].set_visible(False)
    axb.spines['right'].set_visible(False)
    axb.spines['left'].set_linewidth(1.2)
    axb.spines['bottom'].set_linewidth(1.2)
    axb.set_ylabel('Log2 Intensity', fontsize=6, labelpad=1.5)
    axb.set_title(g, fontsize=8.5, pad=5)

fig.savefig('out.png', dpi=100)
